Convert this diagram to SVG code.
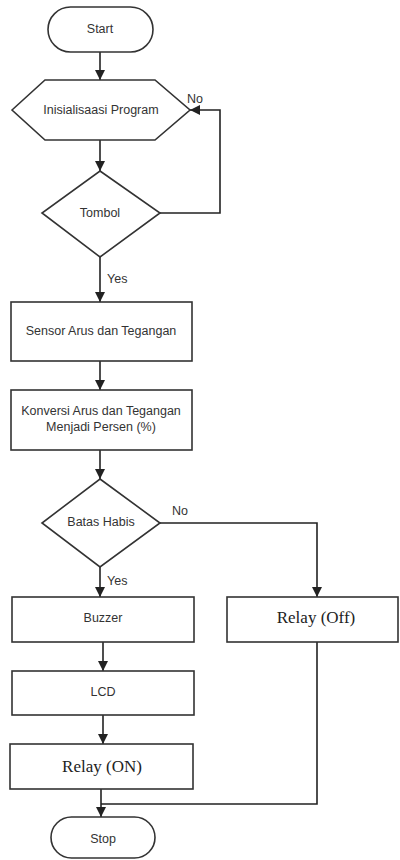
<svg xmlns="http://www.w3.org/2000/svg" width="400" height="860" viewBox="0 0 400 860">
<defs>
<marker id="ah" viewBox="0 0 10 10" refX="10" refY="5" markerWidth="10" markerHeight="10" markerUnits="userSpaceOnUse" orient="auto">
<path d="M0,0 L10,5 L0,10 Z" fill="#222"/>
</marker>
<style>
.s{fill:#fff;stroke:#333;stroke-width:1.6}
.c{fill:none;stroke:#222;stroke-width:1.6;marker-end:url(#ah)}
.cn{fill:none;stroke:#222;stroke-width:1.6}
.t{font-family:"Liberation Sans",Arial,sans-serif;font-size:12.5px;fill:#333;text-anchor:middle;dominant-baseline:central}
.l{font-family:"Liberation Sans",Arial,sans-serif;font-size:12.5px;fill:#333}
.r{font-family:"Liberation Serif","Times New Roman",serif;font-size:17px;fill:#222;text-anchor:middle;dominant-baseline:central}
</style>
</defs>
<rect width="400" height="860" fill="#fff"/>
<g id="connectors">
<path class="c" d="M100,52 L100,80"/>
<path class="c" d="M100,140 L100,171"/>
<path class="c" d="M160,213 L220,213 L220,110 L190,110"/>
<path class="c" d="M100,257 L100,302"/>
<path class="c" d="M100,361 L100,390"/>
<path class="c" d="M100,450 L100,479"/>
<path class="c" d="M160,523 L317,523 L317,597"/>
<path class="c" d="M100,567 L100,597"/>
<path class="c" d="M103,642 L103,671"/>
<path class="c" d="M103,715 L103,744"/>
<path class="c" d="M101,789 L101,817"/>
<path class="cn" d="M317,642 L317,804 L101,804"/>
<text class="l" x="187" y="103">No</text>
<text class="l" x="107" y="283">Yes</text>
<text class="l" x="172" y="515">No</text>
<text class="l" x="107" y="585">Yes</text>
</g>
<g id="start">
<rect class="s" x="48" y="7" width="105" height="45" rx="22.5"/>
<text class="t" x="100" y="29">Start</text>
</g>
<g id="init">
<polygon class="s" points="12,110 45,80 155,80 190,110 155,140 45,140"/>
<text class="t" x="101" y="110">Inisialisaasi Program</text>
</g>
<g id="tombol">
<polygon class="s" points="100,171 160,213 100,257 42,213"/>
<text class="t" x="100" y="213">Tombol</text>
</g>
<g id="sensor">
<rect class="s" x="11" y="302" width="181" height="59"/>
<text class="t" x="101" y="331">Sensor Arus dan Tegangan</text>
</g>
<g id="konversi">
<rect class="s" x="11" y="390" width="181" height="60"/>
<text class="t" x="101" y="411">Konversi Arus dan Tegangan</text>
<text class="t" x="101" y="427">Menjadi Persen (%)</text>
</g>
<g id="batas">
<polygon class="s" points="100,479 160,523 100,567 42,523"/>
<text class="t" x="101" y="522">Batas Habis</text>
</g>
<g id="buzzer">
<rect class="s" x="12" y="597" width="182" height="45"/>
<text class="t" x="103" y="618">Buzzer</text>
</g>
<g id="relayoff">
<rect class="s" x="227" y="597" width="171" height="45"/>
<text class="r" x="316" y="617">Relay (Off)</text>
</g>
<g id="lcd">
<rect class="s" x="12" y="671" width="182" height="44"/>
<text class="t" x="103" y="692">LCD</text>
</g>
<g id="relayon">
<rect class="s" x="10" y="744" width="183" height="45"/>
<text class="r" x="102" y="766">Relay (ON)</text>
</g>
<g id="stop">
<rect class="s" x="51" y="817" width="104" height="41" rx="20.5"/>
<text class="t" x="103" y="839">Stop</text>
</g>
</svg>
